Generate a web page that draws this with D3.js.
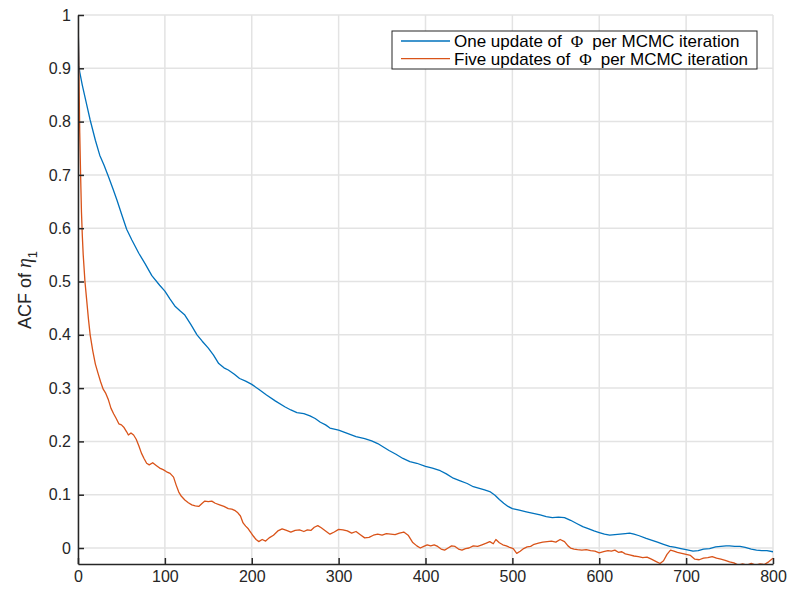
<!DOCTYPE html>
<html>
<head>
<meta charset="utf-8">
<script src="https://cdn.jsdelivr.net/npm/d3@7"></script>
<style>
  body { margin: 0; background: #fff; }
  svg { font-family: "Liberation Sans", Arial, sans-serif; }
</style>
</head>
<body>
<div class="chart"></div>
<script>
// lags + ACF values
const blueLags = [0,1,2,5,10,14,20,25,30,35,40,45,50,56,62,70,77,85,94,100,106,112,118,123,130,137,143,150,156,162,168,173,180,186,193,200,208,217,227,238,245,252,260,267,273,279,285,290,295,300,310,320,330,338,345,351,358,366,374,382,390,400,408,417,424,432,440,448,455,462,468,474,480,485,490,495,500,508,516,524,532,539,546,553,560,567,574,581,588,594,600,606,612,618,624,630,635,640,646,654,660,667,674,681,688,694,700,708,714,720,727,734,740,746,750,756,762,768,775,781,787,793,800];
const blueAcf = [1.0,0.905,0.893,0.868,0.832,0.803,0.765,0.737,0.718,0.697,0.675,0.652,0.627,0.598,0.578,0.553,0.534,0.511,0.493,0.482,0.467,0.453,0.444,0.437,0.419,0.400,0.388,0.375,0.362,0.346,0.338,0.334,0.326,0.318,0.313,0.307,0.298,0.287,0.276,0.265,0.259,0.254,0.252,0.248,0.243,0.236,0.231,0.225,0.223,0.221,0.215,0.209,0.205,0.201,0.196,0.190,0.183,0.176,0.168,0.162,0.159,0.153,0.150,0.145,0.139,0.131,0.126,0.121,0.115,0.112,0.109,0.106,0.099,0.091,0.084,0.078,0.074,0.071,0.068,0.065,0.062,0.059,0.057,0.058,0.057,0.052,0.046,0.040,0.036,0.032,0.029,0.026,0.024,0.025,0.026,0.027,0.028,0.026,0.023,0.018,0.015,0.011,0.007,0.003,0.001,-0.001,-0.003,-0.006,-0.005,-0.002,-0.001,0.002,0.003,0.004,0.004,0.003,0.003,0.001,-0.002,-0.004,-0.005,-0.005,-0.007];

const orangeLags = [0,1,2,3,4,5,6,8,10,12,14,17,20,23,26,29,32,35,38,41,44,47,50,53,56,58,61,64,67,70,73,76,79,82,86,90,94,98,102,106,110,113,116,119,123,127,131,135,139,143,146,150,154,158,163,168,173,177,181,184,187,190,193,196,199,202,205,208,212,216,220,225,230,235,240,245,250,255,260,264,268,272,276,280,285,290,295,300,305,310,315,320,325,330,335,340,345,350,355,360,365,370,375,380,385,390,394,398,402,406,410,414,418,422,426,430,434,438,442,446,450,455,460,465,470,474,478,481,485,489,493,497,501,505,509,513,517,521,525,530,535,540,545,550,555,560,564,567,571,575,580,585,590,595,600,605,610,614,618,622,626,630,635,640,645,650,655,660,665,670,674,678,682,686,690,695,700,705,710,715,720,725,730,735,740,745,750,755,760,765,770,775,780,785,790,795,800];
const orangeAcf = [1.0,0.90,0.78,0.70,0.63,0.585,0.55,0.50,0.465,0.43,0.40,0.37,0.345,0.328,0.312,0.298,0.29,0.278,0.262,0.252,0.243,0.233,0.231,0.226,0.218,0.212,0.216,0.212,0.204,0.192,0.178,0.168,0.159,0.156,0.160,0.155,0.150,0.147,0.143,0.140,0.133,0.118,0.105,0.097,0.090,0.085,0.081,0.079,0.078,0.084,0.088,0.087,0.088,0.084,0.081,0.078,0.074,0.073,0.070,0.066,0.060,0.047,0.041,0.036,0.029,0.022,0.016,0.012,0.016,0.013,0.019,0.024,0.032,0.036,0.033,0.030,0.033,0.034,0.031,0.034,0.033,0.039,0.042,0.038,0.032,0.026,0.030,0.035,0.034,0.032,0.028,0.031,0.025,0.019,0.020,0.024,0.026,0.024,0.027,0.026,0.025,0.028,0.030,0.024,0.011,0.004,0.000,0.003,0.006,0.004,0.006,0.003,-0.002,-0.004,0.000,0.004,0.003,-0.002,-0.004,-0.001,0.000,0.004,0.003,0.006,0.009,0.012,0.008,0.016,0.010,0.006,0.004,0.001,-0.001,-0.010,-0.006,-0.001,0.002,0.003,0.007,0.009,0.011,0.012,0.013,0.011,0.016,0.012,0.004,0.000,-0.002,-0.003,-0.004,-0.003,-0.005,-0.006,-0.009,-0.007,-0.005,-0.006,-0.004,-0.008,-0.007,-0.011,-0.013,-0.015,-0.016,-0.018,-0.017,-0.021,-0.025,-0.029,-0.024,-0.012,-0.004,-0.006,-0.008,-0.010,-0.012,-0.014,-0.021,-0.022,-0.019,-0.018,-0.016,-0.019,-0.021,-0.023,-0.026,-0.028,-0.032,-0.030,-0.032,-0.029,-0.032,-0.030,-0.031,-0.026,-0.019];

const xTicks = [0,100,200,300,400,500,600,700,800];
const yTicks = [0,0.1,0.2,0.3,0.4,0.5,0.6,0.7,0.8,0.9,1];
const legendLabels = ["One update of", "Five updates of"];

const margin = {top: 15, right: 15, bottom: 25, left: 78};
const W = 788, H = 589;
const width = W - margin.left - margin.right,
      height = H - margin.top - margin.bottom;

const svg = d3.select(".chart").append("svg")
    .attr("width", W)
    .attr("height", H)
  .append("g")
    .attr("transform", `translate(${margin.left},${margin.top})`);

const x = d3.scaleLinear().domain([0, 800]).range([0, width]);
const y = d3.scaleLinear().domain([-0.03, 1]).range([height, 0]);

// grid
svg.append("g")
  .selectAll("line")
  .data(xTicks)
  .join("line")
    .attr("x1", d => x(d)).attr("x2", d => x(d))
    .attr("y1", 0).attr("y2", height)
    .attr("stroke", "#e3e3e3").attr("stroke-width", 1.5);
svg.append("g")
  .selectAll("line")
  .data(yTicks)
  .join("line")
    .attr("y1", d => y(d)).attr("y2", d => y(d))
    .attr("x1", 0).attr("x2", width)
    .attr("stroke", "#e3e3e3").attr("stroke-width", 1.5);

// lines
svg.append("clipPath").attr("id", "clip")
  .append("rect").attr("width", width).attr("height", height);

const line = d3.line().x(d => x(d[0])).y(d => y(d[1]));

const series = [
  {pts: d3.zip(blueLags, blueAcf), color: "#0072bd"},
  {pts: d3.zip(orangeLags, orangeAcf), color: "#d95319"}
];

svg.append("g").attr("clip-path", "url(#clip)")
  .selectAll("path")
  .data(series)
  .join("path")
    .attr("fill", "none")
    .attr("stroke", d => d.color)
    .attr("stroke-width", 1.3)
    .attr("stroke-linejoin", "round")
    .attr("d", d => line(d.pts));

// axes, ticks pointing inward
const xAxis = d3.axisBottom(x).tickValues(xTicks).tickSizeInner(-6).tickSizeOuter(0).tickPadding(7);
const yAxis = d3.axisLeft(y).tickValues(yTicks).tickSizeInner(-6).tickSizeOuter(0).tickPadding(7)
    .tickFormat(d => d === 0 || d === 1 ? d : d3.format(".1f")(d));

svg.append("g")
    .attr("transform", `translate(0,${height})`)
    .call(xAxis)
    .call(g => g.selectAll("text").attr("font-size", 16).attr("fill", "#262626").attr("font-family", "Liberation Sans, Arial"))
    .call(g => g.selectAll("line, path").attr("stroke", "#262626").attr("stroke-width", 1.5));

svg.append("g")
    .call(yAxis)
    .call(g => g.selectAll("text").attr("font-size", 16).attr("fill", "#262626").attr("font-family", "Liberation Sans, Arial"))
    .call(g => g.selectAll("line, path").attr("stroke", "#262626").attr("stroke-width", 1.5));

// y title
const yt = svg.append("text")
    .attr("transform", `translate(${31 - margin.left},${290 - margin.top}) rotate(-90)`)
    .attr("text-anchor", "middle")
    .attr("font-size", 18)
    .attr("fill", "#262626");
yt.append("tspan").text("ACF of ");
yt.append("tspan").text("η").attr("font-family", "Liberation Serif, serif").attr("font-style", "italic").attr("font-size", 20);
yt.append("tspan").text("1").attr("font-size", 13).attr("dy", 6);

// legend
const lg = svg.append("g").attr("transform", `translate(${392 - margin.left},${31 - margin.top})`);
lg.append("rect")
    .attr("width", 365).attr("height", 38)
    .attr("fill", "#fff").attr("stroke", "#262626").attr("stroke-width", 1);

lg.selectAll("g.item")
  .data(series)
  .join("g")
    .attr("class", "item")
    .attr("transform", (d, i) => `translate(0,${10 + i * 17.6})`)
    .each(function(d, i) {
      const g = d3.select(this);
      g.append("line").attr("x1", 9).attr("x2", 58)
        .attr("stroke", d.color).attr("stroke-width", 1.3);
      const t = g.append("text").attr("x", 62).attr("dy", "0.35em")
        .attr("font-size", 17).attr("fill", "#000");
      t.append("tspan").text(legendLabels[i]);
      t.append("tspan").text("Φ").attr("dx", 9).attr("font-family", "Liberation Serif, serif");
      t.append("tspan").text("per MCMC iteration").attr("dx", 9);
    });
</script>
</body>
</html>
